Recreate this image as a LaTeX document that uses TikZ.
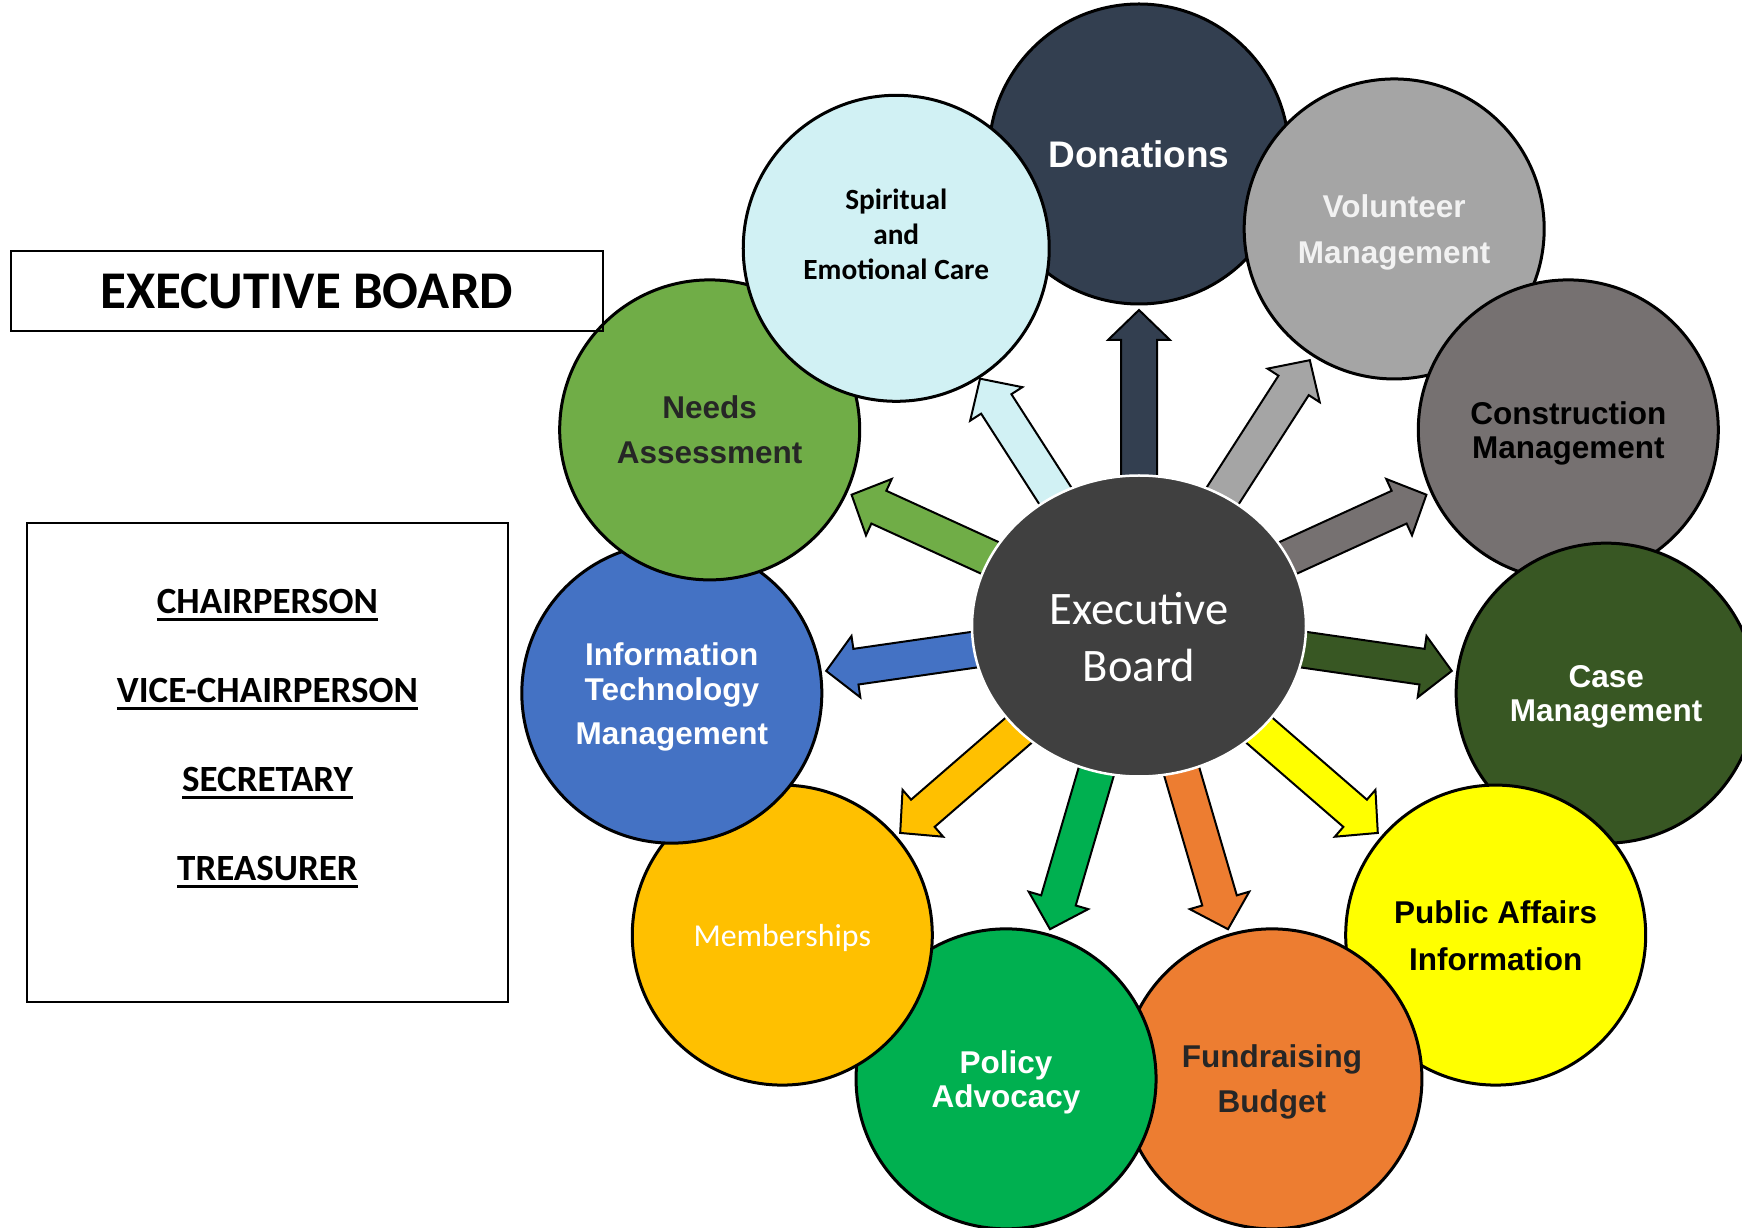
\documentclass[tikz,border=0pt]{standalone}
\usepackage{fontspec}
\setmainfont{Liberation Sans}
\newfontfamily\calibri{Carlito}
\usetikzlibrary{shapes.geometric, calc, positioning, backgrounds}

\definecolor{hubcol}{HTML}{404040}
\definecolor{doncol}{HTML}{333F50}
\definecolor{volcol}{HTML}{A5A5A5}
\definecolor{voltext}{HTML}{F2F2F2}
\definecolor{concol}{HTML}{767171}
\definecolor{casecol}{HTML}{385723}
\definecolor{pubcol}{HTML}{FFFF00}
\definecolor{fundcol}{HTML}{ED7D31}
\definecolor{polcol}{HTML}{00B050}
\definecolor{memcol}{HTML}{FFC000}
\definecolor{itcol}{HTML}{4472C4}
\definecolor{needcol}{HTML}{70AD47}
\definecolor{spircol}{HTML}{D1F1F4}
\definecolor{darktext}{HTML}{262626}

% underlined officer title
\newcommand{\officer}[1]{\leavevmode\setbox0=\hbox{#1}\rlap{\rule[-7.5pt]{\wd0}{2.5pt}}\box0}

% block arrow from the hub to a petal: [length]{target}{colour}
\newcommand{\blockedge}[3][316]{%
  \pgfmathsetmacro{\headbase}{#1-30}%
  \draw[blockarrow, fill=#3]
    ($(eb)!18pt!90:(#2)$) --
    ($(eb)!\headbase pt!(#2)!18pt!90:(#2)$) --
    ($(eb)!\headbase pt!(#2)!31pt!90:(#2)$) --
    ($(eb)!#1pt!(#2)$) --
    ($(eb)!\headbase pt!(#2)!31pt!-90:(#2)$) --
    ($(eb)!\headbase pt!(#2)!18pt!-90:(#2)$) --
    ($(eb)!18pt!-90:(#2)$) -- cycle;%
}

\tikzset{
  hub/.style={ellipse, draw=white, line width=2.5pt, fill=hubcol, text=white,
    minimum width=334pt, minimum height=301pt, inner sep=0pt, align=center,
    text height=112pt, text depth=0pt, font=\calibri\fontsize{46.6}{57}\selectfont},
  petal/.style={circle, draw=black, line width=3pt, minimum size=300pt,
    inner sep=0pt, align=center, text depth=-4pt,
    font=\bfseries\fontsize{31.5}{34}\selectfont},
  sunk/.style={text depth=-3pt},
  blockarrow/.style={draw=black, line width=2pt, line join=miter},
  titlebox/.style={draw=black, line width=2.5pt, minimum width=592pt,
    minimum height=80pt, font=\calibri\bfseries\fontsize{53}{60}\selectfont},
  listbox/.style={draw=black, line width=2.5pt, minimum width=481pt,
    minimum height=479pt},
  roles/.style={inner sep=0pt, align=center,
    font=\calibri\bfseries\fontsize{37}{89}\selectfont},
}

\begin{document}
\begin{tikzpicture}[x=1pt, y=1pt]
  \useasboundingbox (-1139,-602) rectangle (603,626);

  % Define nodes
  \node[hub] (eb) at (0,0) {Executive\\Board};

  \node[petal, fill=doncol, text=white,
    font=\bfseries\fontsize{37}{44}\selectfont] (don) at (90:472) {Donations};
  \node[petal, sunk, fill=volcol, text=voltext] (vol) at (57.27:472) {Volunteer\\[12pt]Management};
  \node[petal, sunk, fill=concol] (con) at (24.55:472) {Construction\\Management};
  \node[petal, sunk, fill=casecol, text=white] (case) at (-8.18:472) {Case\\Management};
  \node[petal, fill=pubcol] (pub) at (-40.91:472) {Public Affairs\\[13pt]Information};
  \node[petal, sunk, fill=fundcol, text=darktext] (fund) at (-73.64:472) {Fundraising\\[11pt]Budget};
  \node[petal, sunk, fill=polcol, text=white] (pol) at (-106.36:472) {Policy\\Advocacy};
  \node[petal, sunk, fill=memcol, text=white,
    font=\calibri\fontsize{31.9}{38}\selectfont] (mem) at (-139.09:472) {Memberships};
  \node[petal, sunk, fill=itcol, text=white] (it) at (-171.82:472) {Information\\[1pt]Technology\\[10pt]Management};
  \node[petal, fill=needcol, text=darktext] (need) at (155.45:472) {Needs\\[11pt]Assessment};
  \node[petal, fill=spircol, minimum size=306pt, text height=62pt, text depth=0pt,
    font=\calibri\bfseries\fontsize{29.3}{35}\selectfont] (spir) at (122.73:449) {Spiritual\\and\\Emotional Care};

  \node[titlebox] (title) at (-832,335) {EXECUTIVE BOARD};
  \node[listbox] (officers) at (-871.5,-136.5) {};
  \node[roles, below=67pt of officers.north] (members)
    {\officer{CHAIRPERSON}\\\officer{VICE-CHAIRPERSON}\\\officer{SECRETARY}\\\officer{TREASURER}};

  % Connect the nodes
  \begin{pgfonlayer}{background}
    \blockedge{don}{doncol}
    \blockedge{vol}{volcol}
    \blockedge{con}{concol}
    \blockedge{case}{casecol}
    \blockedge{pub}{pubcol}
    \blockedge{fund}{fundcol}
    \blockedge{pol}{polcol}
    \blockedge{mem}{memcol}
    \blockedge{it}{itcol}
    \blockedge{need}{needcol}
    \blockedge[294]{spir}{spircol}
  \end{pgfonlayer}

\end{tikzpicture}
\end{document}
